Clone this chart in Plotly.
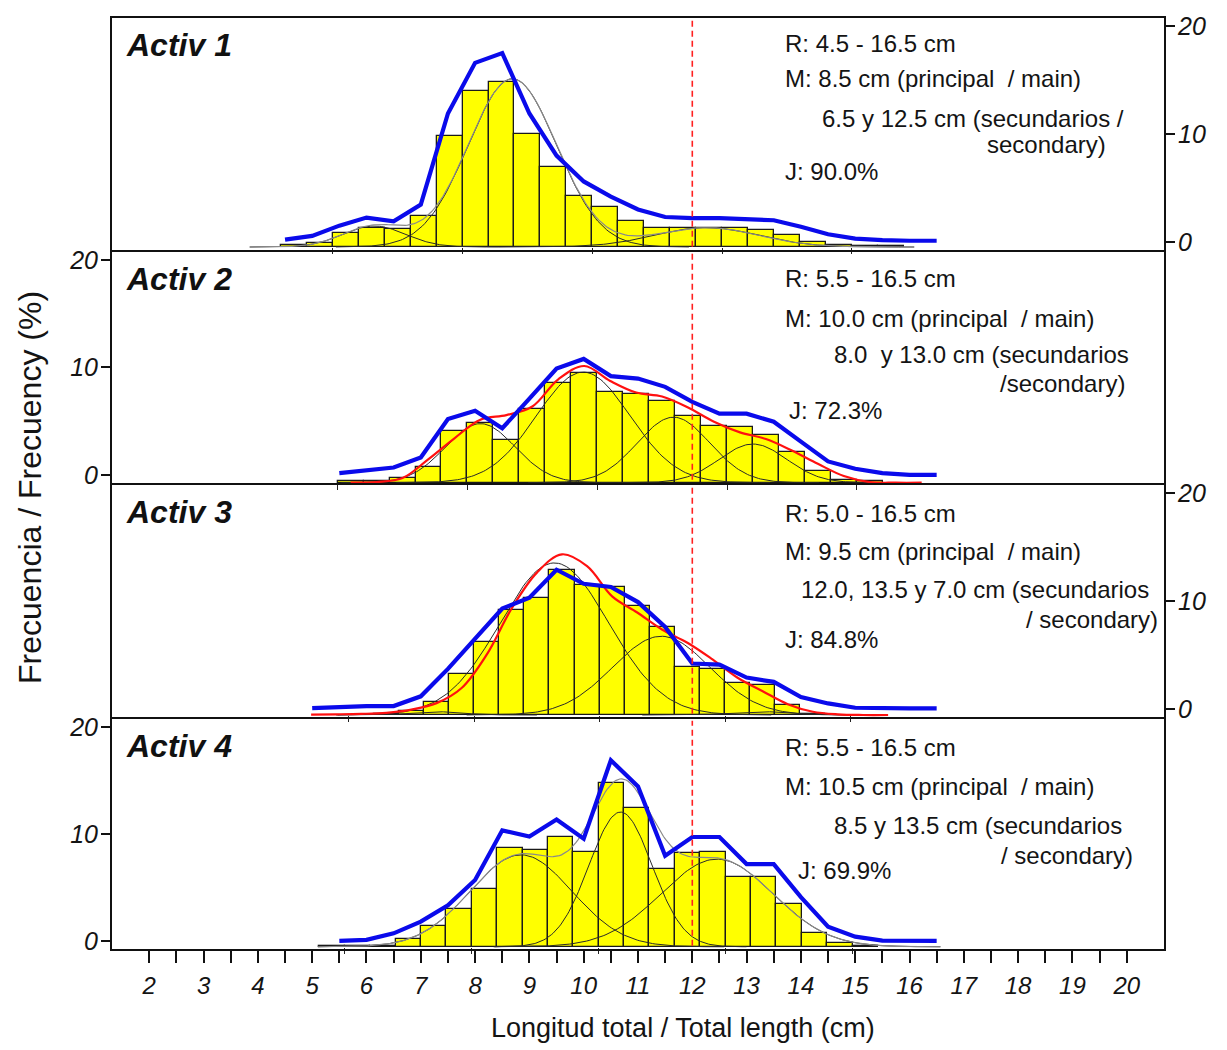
import numpy as np
import plotly.graph_objects as go

# ---------------- data ----------------
panel_names = ["Activ 1", "Activ 2", "Activ 3", "Activ 4"]

# observed frequency polygons (blue), 0.5 cm length classes
obs_start = [4.5, 5.5, 5.0, 5.5]
obs_1 = [0.2, 0.55, 1.5, 2.25, 1.9, 3.45, 11.9, 16.6, 17.5, 11.9, 8.0, 5.6, 4.2,
         3.0, 2.3, 2.2, 2.2, 2.1, 2.0, 1.4, 0.7, 0.3, 0.15, 0.1, 0.1]
obs_2 = [0.17, 0.39, 0.69, 1.62, 5.2, 5.97, 4.34, 7.1, 9.9, 10.8, 9.2, 8.97, 8.2,
         6.8, 5.7, 5.7, 4.95, 3.1, 1.25, 0.57, 0.17, 0.0, 0.0]
obs_3 = [0.07, 0.17, 0.26, 0.26, 1.16, 3.7, 6.5, 9.3, 10.3, 12.9, 11.6, 11.3, 9.9,
         7.6, 4.2, 4.1, 2.9, 2.5, 1.1, 0.5, 0.1, 0.05, 0.05, 0.05]
obs_4 = [0.0, 0.1, 0.71, 1.8, 3.33, 5.7, 10.34, 9.76, 11.36, 9.57, 16.9, 14.44, 7.96,
         9.72, 9.72, 7.19, 7.19, 4.1, 1.33, 0.4, 0.03, 0.0, 0.0]

# histograms (yellow bars), class marks of 0.5 cm
hist_start = [4.5, 5.5, 6.0, 5.0]
hist_1 = [0.15, 0.37, 1.33, 1.73, 1.65, 2.84, 10.25, 14.45, 15.28, 10.52, 7.43, 4.75,
          3.68, 2.38, 1.76, 1.76, 1.76, 1.76, 1.54, 1.14, 0.46, 0.15, 0.12, 0.12]
hist_2 = [0.12, 0.12, 0.46, 1.42, 4.79, 5.56, 4.0, 6.82, 9.31, 10.23, 8.46, 8.3, 7.63,
          6.18, 5.25, 5.16, 4.44, 2.9, 1.05, 0.24, 0.12]
hist_3 = [0.12, 0.37, 1.2, 3.77, 6.79, 9.72, 10.86, 13.4, 12.05, 11.85, 10.1, 8.15,
          4.48, 4.23, 2.93, 2.78, 0.93, 0.12]
hist_4 = [0.12, 0.12, 0.12, 0.69, 1.95, 3.52, 5.37, 9.28, 9.03, 10.25, 8.87, 15.3,
          12.96, 7.3, 8.74, 8.9, 6.55, 6.55, 4.0, 1.33, 0.37, 0.12]

# total fitted curves (red), panels 2 and 3
fit_start = [None, 5.5, 4.5, None]
fit_2 = [0.0, 0.06, 0.43, 2.2, 4.14, 5.87, 6.3, 7.1, 9.63, 10.87, 9.48, 8.4, 8.03,
         7.0, 5.68, 4.69, 4.07, 3.0, 1.76, 0.62, 0.06, 0.0, 0.0]
fit_3 = [0.04, 0.06, 0.1, 0.2, 0.5, 1.1, 2.5, 5.6, 9.9, 13.2, 14.9, 13.8, 11.0, 9.5,
         7.9, 6.7, 5.15, 3.45, 2.2, 1.0, 0.3, 0.06, 0.0, 0.0]

# normal components (mean cm, sd cm, peak %)
comp_1 = [(6.05, 0.6, 1.95), (8.71, 0.85, 15.6), (12.45, 1.0, 1.8)]
comp_2 = [(8.0, 0.67, 5.5), (9.98, 0.9, 10.3), (11.72, 0.7, 6.1), (13.25, 0.65, 3.6)]
comp_3 = [(7.0, 0.5, 0.3), (9.35, 1.08, 14.1), (11.48, 0.97, 7.3), (13.5, 0.6, 0.3)]
comp_4 = [(8.72, 1.0, 8.6), (10.68, 0.62, 12.6), (12.58, 1.1, 8.2)]

ref_length = 12.0                      # dashed reference length (cm)
y_tick_vals = [0, 10, 20]
x_label_vals = list(range(2, 21))

info_lines = [
    ["R: 4.5 - 16.5 cm", "M: 8.5 cm (principal  / main)", "6.5 y 12.5 cm (secundarios /",
     "secondary)", "J: 90.0%"],
    ["R: 5.5 - 16.5 cm", "M: 10.0 cm (principal  / main)", "8.0  y 13.0 cm (secundarios",
     "/secondary)", "J: 72.3%"],
    ["R: 5.0 - 16.5 cm", "M: 9.5 cm (principal  / main)", "12.0, 13.5 y 7.0 cm (secundarios",
     "/ secondary)", "J: 84.8%"],
    ["R: 5.5 - 16.5 cm", "M: 10.5 cm (principal  / main)", "8.5 y 13.5 cm (secundarios",
     "/ secondary)", "J: 69.9%"],
]
x_title = "Longitud total / Total length (cm)"
y_title = "Frecuencia / Frecuency (%)"

obs = [obs_1, obs_2, obs_3, obs_4]
hists = [hist_1, hist_2, hist_3, hist_4]
fits = [None, fit_2, fit_3, None]
comps = [comp_1, comp_2, comp_3, comp_4]

# ---------------- geometry / style ----------------
W, H = 1227, 1050
L, R, T, B = 111, 1165, 13, 950
panel_px = [13, 248, 482, 717, 950]
X_RANGE = [1.295, 20.705]
Y_RANGE = [-0.85, 20.85]
# the histogram layer is a pasted graphic slightly compressed / offset
h_scale = [0.956, 0.956, 0.924, 0.935]
h_anchor = [8.5, 10.0, 9.5, 10.5]
h_center = [8.486, 10.01, 9.60, 10.51]
h_offset = [0.48, 0.73, 0.57, 0.55]
h_base_px = [244, 480.7, 714, 946.7]

FONT = "Liberation Sans, Arial, sans-serif"
TXT = "#141414"


def pxx(p):
    return (p - L) / (R - L)


def pxy(p):
    return (B - p) / (B - T)


def gauss(x, m, s, a):
    return a * np.exp(-0.5 * ((x - m) / s) ** 2)


fig = go.Figure()
layout = dict(
    width=W, height=H, margin=dict(l=L, r=W - R, t=T, b=H - B),
    paper_bgcolor="white", plot_bgcolor="rgba(0,0,0,0)", showlegend=False,
    bargap=0, font=dict(family=FONT, color=TXT),
)
shapes, annotations = [], []

for i in range(4):
    n = i + 1
    hx, hy = ("x" if n == 1 else f"x{n}"), ("y" if n == 1 else f"y{n}")
    ox, oy = f"x{n + 4}", f"y{n + 4}"
    dom = [pxy(panel_px[i + 1]), pxy(panel_px[i])]

    # ---- histogram layer (base axes) ----
    hv = hists[i]
    hxs = hist_start[i] + 0.5 * np.arange(len(hv))
    fig.add_trace(go.Bar(x=hxs, y=hv, width=0.5, xaxis=hx, yaxis=hy,
                         marker=dict(color="#FFFF00", line=dict(color="#1a1a1a", width=1.3))))
    cl = comps[i]
    for (m, s, a) in cl:
        xs = np.linspace(m - 4 * s, m + 4 * s, 160)
        fig.add_trace(go.Scatter(x=xs, y=gauss(xs, m, s, a), mode="lines", xaxis=hx, yaxis=hy,
                                 line=dict(color="#2a2a2a", width=1)))
    if i in (0, 3):
        lo = min(m - 4 * s for (m, s, a) in cl)
        hi = max(m + 4 * s for (m, s, a) in cl)
        xs = np.linspace(lo, hi, 300)
        tot = sum(gauss(xs, m, s, a) for (m, s, a) in cl)
        fig.add_trace(go.Scatter(x=xs, y=tot, mode="lines", xaxis=hx, yaxis=hy,
                                 line=dict(color="#8a8a8a", width=1.2)))
    if fits[i] is not None:
        fv = fits[i]
        fxs = fit_start[i] + 0.5 * np.arange(len(fv))
        fig.add_trace(go.Scatter(x=fxs, y=fv, mode="lines", xaxis=hx, yaxis=hy,
                                 line=dict(color="#FF1010", width=2.2, shape="spline", smoothing=1)))

    # ---- observed layer (overlay axes) ----
    ov = obs[i]
    oxs = obs_start[i] + 0.5 * np.arange(len(ov))
    fig.add_trace(go.Scatter(x=oxs, y=ov, mode="lines", xaxis=ox, yaxis=oy,
                             line=dict(color="#0A0AEB", width=4.2)))
    fig.add_trace(go.Scatter(x=[ref_length, ref_length], y=[-0.45, 20.6], mode="lines",
                             xaxis=ox, yaxis=oy,
                             line=dict(color="#FF2020", width=1.6, dash="6px,4px")))

    s_, u0, c0, off = h_scale[i], h_anchor[i], h_center[i], h_offset[i]
    hrange = [u0 + (X_RANGE[0] - c0) / s_, u0 + (X_RANGE[1] - c0) / s_]
    layout["xaxis" if n == 1 else f"xaxis{n}"] = dict(
        domain=[0, 1], anchor="free", position=pxy(h_base_px[i]), range=hrange,
        showgrid=False, zeroline=False, showline=False, showticklabels=False,
        ticks="outside", tickvals=[5.25, 7.75, 10.25, 12.75, 15.25], ticklen=6,
        tickwidth=1.2, tickcolor="#222")
    layout["yaxis" if n == 1 else f"yaxis{n}"] = dict(
        domain=dom, anchor=hx, range=[Y_RANGE[0] + off, Y_RANGE[1] + off], visible=False)

    xo = dict(overlaying=hx, anchor=oy, domain=[0, 1], range=X_RANGE,
              showgrid=False, zeroline=False, showline=False)
    if n == 4:
        tv = list(np.arange(2, 20.01, 0.5))
        tt = [str(int(v)) if float(v).is_integer() and int(v) in x_label_vals else "" for v in tv]
        xo.update(ticks="outside", tickvals=tv, ticktext=tt, ticklen=12, tickwidth=1.6,
                  tickcolor="#111", ticklabelstandoff=2,
                  tickfont=dict(family=FONT, size=24, style="italic", color=TXT))
    else:
        xo.update(visible=False)
    layout[f"xaxis{n + 4}"] = xo
    layout[f"yaxis{n + 4}"] = dict(
        overlaying=hy, anchor=ox, domain=dom, range=Y_RANGE, side=("right" if n % 2 == 1 else "left"),
        showgrid=False, zeroline=False, showline=False, ticks="outside", ticklen=9,
        tickwidth=1.6, tickcolor="#111", tickvals=y_tick_vals, ticklabelstandoff=-2,
        tickfont=dict(family=FONT, size=25, style="italic", color=TXT))

    # panel frame
    shapes.append(dict(type="rect", xref="paper", yref="paper", x0=0, x1=1, y0=dom[0], y1=dom[1],
                       line=dict(color="#111", width=2), layer="above"))

    # panel label
    top = panel_px[i]
    annotations.append(dict(text=f"<b><i>{panel_names[i]}</i></b>", xref="paper", yref="paper",
                            x=pxx(124), y=pxy(top + 28), xanchor="left", yanchor="middle",
                            showarrow=False, font=dict(family=FONT, size=32, color="#111")))

# info text lines: (anchor px, centre px, anchor side) per panel
info_pos = [
    [(783, 42, "left"), (783, 77, "left"), (820, 117, "left"), (1108, 143, "right"), (783, 170, "left")],
    [(783, 278, "left"), (783, 318, "left"), (832, 354, "left"), (1127, 383, "right"), (787, 410, "left")],
    [(783, 514, "left"), (783, 552, "left"), (799, 590, "left"), (1160, 620, "right"), (783, 640, "left")],
    [(783, 749, "left"), (783, 788, "left"), (832, 827, "left"), (1135, 857, "right"), (796, 872, "left")],
]
for i in range(4):
    for txt, (ax_, cy, side) in zip(info_lines[i], info_pos[i]):
        annotations.append(dict(text=txt, xref="paper", yref="paper", x=pxx(ax_), y=pxy(cy - 2),
                                xanchor=side, yanchor="middle", showarrow=False,
                                font=dict(family=FONT, size=24, color=TXT)))

annotations.append(dict(text=x_title, xref="paper", yref="paper", x=pxx(683), y=pxy(1028),
                        xanchor="center", yanchor="middle", showarrow=False,
                        font=dict(family=FONT, size=27, color=TXT)))
annotations.append(dict(text=y_title, xref="paper", yref="paper", x=pxx(30), y=pxy(486),
                        xanchor="center", yanchor="middle", textangle=-90, showarrow=False,
                        font=dict(family=FONT, size=32, color=TXT)))

layout["shapes"] = shapes
layout["annotations"] = annotations
fig.update_layout(**layout)

fig.write_html("out.html", config={"displayModeBar": False},
               post_script="document.body.style.margin='0';")
